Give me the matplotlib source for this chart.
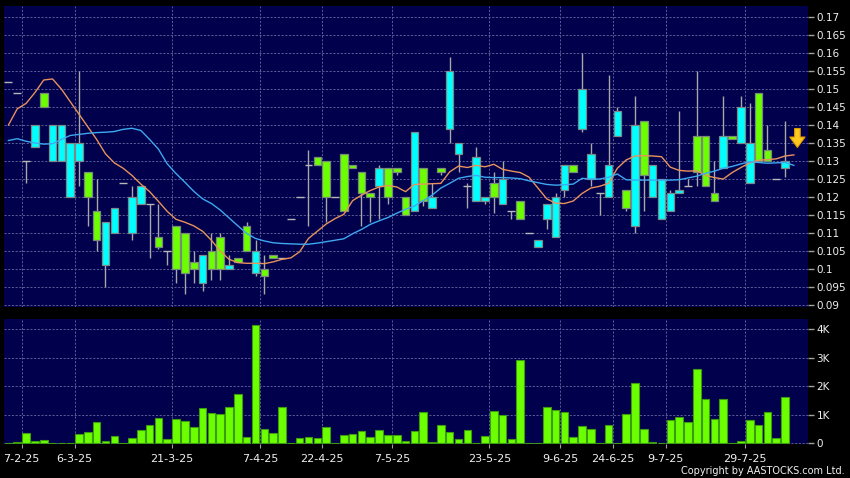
import matplotlib
matplotlib.use("Agg")
import matplotlib.pyplot as plt
import numpy as np

# Data (one entry per trading slot)
opens = [0.152, 0.149, 0.130, 0.140, 0.145, 0.140, 0.140, 0.135, 0.135, 0.120,
         0.108, 0.113, 0.117, 0.124, 0.120, 0.123, 0.118, 0.106, 0.105, 0.100,
         0.099, 0.100, 0.104, 0.100, 0.100, 0.101, 0.102, 0.105, 0.105, 0.098,
         0.103, 0.103, 0.114, 0.120, 0.129, 0.129, 0.120, 0.120, 0.116, 0.128,
         0.121, 0.120, 0.128, 0.120, 0.127, 0.115, 0.138, 0.119, 0.120, 0.127,
         0.155, 0.135, 0.123, 0.131, 0.120, 0.120, 0.125, 0.116, 0.114, 0.110,
         0.108, 0.118, 0.120, 0.129, 0.127, 0.150, 0.132, 0.121, 0.129, 0.144,
         0.117, 0.140, 0.126, 0.129, 0.125, 0.121, 0.122, 0.123, 0.127, 0.123,
         0.119, 0.137, 0.136, 0.145, 0.135, 0.130, 0.130, 0.125, 0.130]
highs = [0.152, 0.149, 0.130, 0.140, 0.149, 0.140, 0.140, 0.135, 0.155, 0.127,
         0.125, 0.113, 0.117, 0.124, 0.123, 0.123, 0.118, 0.118, 0.105, 0.112,
         0.110, 0.105, 0.104, 0.110, 0.110, 0.104, 0.103, 0.113, 0.108, 0.104,
         0.104, 0.103, 0.114, 0.120, 0.133, 0.131, 0.130, 0.120, 0.132, 0.129,
         0.127, 0.121, 0.129, 0.128, 0.128, 0.120, 0.138, 0.128, 0.124, 0.128,
         0.159, 0.135, 0.124, 0.134, 0.120, 0.127, 0.130, 0.116, 0.119, 0.110,
         0.108, 0.118, 0.121, 0.129, 0.129, 0.160, 0.135, 0.121, 0.154, 0.145,
         0.122, 0.148, 0.141, 0.129, 0.125, 0.122, 0.144, 0.125, 0.155, 0.137,
         0.130, 0.148, 0.137, 0.148, 0.146, 0.149, 0.140, 0.125, 0.141]
lows = [0.152, 0.149, 0.124, 0.134, 0.145, 0.130, 0.130, 0.120, 0.123, 0.112,
        0.105, 0.095, 0.110, 0.124, 0.108, 0.118, 0.103, 0.1055, 0.101, 0.096,
        0.093, 0.096, 0.094, 0.097, 0.097, 0.100, 0.102, 0.105, 0.098, 0.093,
        0.103, 0.103, 0.114, 0.120, 0.112, 0.129, 0.113, 0.120, 0.116, 0.128,
        0.112, 0.113, 0.114, 0.118, 0.126, 0.115, 0.116, 0.1175, 0.117, 0.126,
        0.135, 0.127, 0.117, 0.119, 0.118, 0.1155, 0.118, 0.114, 0.114, 0.110,
        0.106, 0.111, 0.109, 0.120, 0.127, 0.138, 0.123, 0.115, 0.120, 0.137,
        0.116, 0.110, 0.116, 0.120, 0.114, 0.116, 0.121, 0.123, 0.123, 0.123,
        0.119, 0.128, 0.136, 0.135, 0.124, 0.130, 0.130, 0.125, 0.1257]
closes = [0.152, 0.149, 0.130, 0.134, 0.149, 0.130, 0.130, 0.120, 0.130, 0.127,
          0.116, 0.101, 0.110, 0.124, 0.110, 0.118, 0.118, 0.109, 0.105, 0.112,
          0.110, 0.102, 0.096, 0.105, 0.109, 0.100, 0.103, 0.112, 0.099, 0.100,
          0.104, 0.103, 0.114, 0.120, 0.129, 0.131, 0.130, 0.120, 0.132, 0.129,
          0.127, 0.121, 0.123, 0.128, 0.128, 0.120, 0.116, 0.128, 0.117, 0.128,
          0.139, 0.132, 0.123, 0.119, 0.119, 0.124, 0.118, 0.116, 0.119, 0.110,
          0.106, 0.114, 0.109, 0.122, 0.129, 0.139, 0.125, 0.121, 0.120, 0.137,
          0.122, 0.112, 0.141, 0.120, 0.114, 0.116, 0.121, 0.123, 0.137, 0.137,
          0.121, 0.128, 0.137, 0.135, 0.124, 0.149, 0.133, 0.125, 0.128]
volumes = [0, 35, 370, 100, 130, 30, 0, 0, 320, 400,
           740, 70, 270, 0, 190, 460, 650, 890, 140, 840,
           780, 560, 1230, 1050, 1040, 1270, 1730, 220, 4140, 490,
           360, 1280, 0, 200, 220, 190, 560, 0, 300, 340,
           440, 210, 460, 290, 280, 80, 440, 1100, 35, 640,
           410, 140, 480, 0, 270, 1120, 990, 140, 2900, 0,
           0, 1270, 1170, 1090, 210, 600, 500, 0, 630, 30,
           1040, 2110, 490, 60, 30, 820, 910, 760, 2590, 1560,
           860, 1540, 30, 100, 830, 650, 1090, 190, 1630]
ma_short = [0.140, 0.1445, 0.146, 0.149, 0.1525, 0.1528, 0.150, 0.1465, 0.143, 0.1395,
            0.136, 0.132, 0.1295, 0.128, 0.126, 0.1236, 0.1215, 0.1188, 0.116, 0.1138,
            0.113, 0.112, 0.1105, 0.108, 0.105, 0.1027, 0.1018, 0.1016, 0.1016, 0.1015,
            0.102, 0.1027, 0.1031, 0.1048, 0.1085, 0.1105, 0.1125, 0.114, 0.1152, 0.119,
            0.1205, 0.1218, 0.1228, 0.1232, 0.1228, 0.1215, 0.1235, 0.1236, 0.1237, 0.1238,
            0.127, 0.1286, 0.1282, 0.1288, 0.1284, 0.1291, 0.1277, 0.1272, 0.1268, 0.1255,
            0.1225, 0.1195, 0.1183, 0.1182, 0.1189, 0.121, 0.1225, 0.123, 0.1238, 0.128,
            0.1303, 0.1314, 0.1315, 0.1314, 0.1312, 0.1283, 0.1274, 0.1272, 0.1273, 0.126,
            0.1254, 0.125, 0.1268, 0.1282, 0.1295, 0.1302, 0.1304, 0.1306, 0.1314, 0.1317]
ma_long = [0.1357, 0.1362, 0.1355, 0.135, 0.1347, 0.1348, 0.136, 0.1371, 0.1374, 0.1377,
           0.1379, 0.138, 0.1382, 0.1388, 0.1391, 0.1385, 0.136, 0.1333, 0.1292, 0.1265,
           0.1241, 0.1216, 0.1195, 0.1182, 0.1164, 0.1142, 0.112, 0.1099, 0.1085, 0.1078,
           0.1073, 0.1071, 0.107, 0.1069, 0.1069, 0.1072, 0.1076, 0.108, 0.1084, 0.1098,
           0.111, 0.1124, 0.1134, 0.1143, 0.1155, 0.1166, 0.1175, 0.119, 0.1205, 0.1225,
           0.1238, 0.1252, 0.1257, 0.126, 0.1255, 0.1254, 0.1254, 0.1253, 0.1251, 0.1245,
           0.124, 0.1235, 0.1233, 0.1234, 0.1236, 0.1252, 0.125, 0.125, 0.1255, 0.1264,
           0.1248, 0.1247, 0.1247, 0.1247, 0.1247, 0.1247, 0.1248, 0.1253, 0.1258, 0.1266,
           0.1272, 0.128, 0.1285, 0.1292, 0.1298, 0.1296, 0.1294, 0.1295, 0.1296, 0.1288]
date_labels = ["7-2-25", "6-3-25", "21-3-25", "7-4-25", "22-4-25", "7-5-25",
               "23-5-25", "9-6-25", "24-6-25", "9-7-25", "29-7-25"]
date_slots = [1, 7, 18, 28, 35, 43, 54, 62, 68, 74, 83]
price_ticks = [0.09, 0.095, 0.1, 0.105, 0.11, 0.115, 0.12, 0.125, 0.13,
               0.135, 0.14, 0.145, 0.15, 0.155, 0.16, 0.165, 0.17]
vol_ticks = [0, 1000, 2000, 3000, 4000]
vol_labels = ["0", "1K", "2K", "3K", "4K"]

BG = "#00004c"
GRID = "#5a5a96"
GREEN = "#6cff00"
CYAN = "#00ffff"
TXT = "#f0f0f0"

fig = plt.figure(figsize=(8.5, 4.78), dpi=100, facecolor="black")
ax = fig.add_axes([4 / 850, 1 - 306.5 / 478, 804 / 850, 300.5 / 478])
axv = fig.add_axes([4 / 850, 1 - 444 / 478, 804 / 850, 125 / 478])

x = np.arange(len(closes))
o = np.array(opens)
c = np.array(closes)
up = c > o
down = c < o
flat = c == o

# wicks
ax.vlines(x, lows, highs, color="#a8a8a8", linewidth=1, zorder=3)
# bodies
bottom = np.minimum(o, c)
height = np.abs(c - o)
ax.bar(x[up], height[up], bottom=bottom[up], width=0.86, color=GREEN,
       edgecolor="#7a8a7a", linewidth=0.9, zorder=4)
ax.bar(x[down], height[down], bottom=bottom[down], width=0.86, color=CYAN,
       edgecolor="#7a8a8a", linewidth=0.9, zorder=4)
ax.hlines(o[flat], x[flat] - 0.45, x[flat] + 0.45, color="#b8b8b8", linewidth=1, zorder=4)

# moving averages
xm = np.arange(len(ma_short))
ax.plot(xm, ma_short, color="#e8925c", linewidth=1, zorder=5)
ax.plot(xm, ma_long, color="#3ea8f0", linewidth=1, zorder=5)

# last-price arrow
n = len(closes)
ax.annotate("", xy=(n + 0.4, 0.1330), xytext=(n + 0.4, 0.1398),
            arrowprops=dict(arrowstyle="simple,head_length=0.75,head_width=1.1,tail_width=0.4",
                            fc="#ffc820", ec="#e09a00", lw=0.8, mutation_scale=10), zorder=6)

# volume
axv.bar(x, volumes, width=0.86, color=GREEN, edgecolor="#3c9c10", linewidth=0.8, zorder=3)

for a in (ax, axv):
    a.set_facecolor(BG)
    a.set_xlim(-0.5, 90.6)
    a.grid(True, color=GRID, linestyle=(0, (2.2, 1.6)), linewidth=0.7)
    a.set_axisbelow(True)
    for s in a.spines.values():
        s.set_visible(False)
    a.yaxis.tick_right()
    a.tick_params(axis="y", colors="#a0a0a0", labelcolor=TXT, length=4, width=1,
                  labelsize=7.5, pad=2)
    a.set_xticks([s + 0.5 for s in date_slots])

ax.set_ylim(0.0896, 0.17306)
ax.set_yticks(price_ticks)
ax.set_yticklabels(["%g" % t for t in price_ticks])
ax.tick_params(axis="x", length=0, labelbottom=False)

axv.set_ylim(-20, 4350)
axv.set_yticks(vol_ticks)
axv.set_yticklabels(vol_labels)
axv.set_xticklabels(date_labels)
axv.tick_params(axis="x", colors="#a0a0a0", labelcolor=TXT, length=3, labelsize=8, pad=4)

fig.text(0.994, 0.004, "Copyright by AASTOCKS.com Ltd.", color=TXT, fontsize=7,
         ha="right", va="bottom")

fig.savefig("out.png", dpi=100, facecolor="black")
